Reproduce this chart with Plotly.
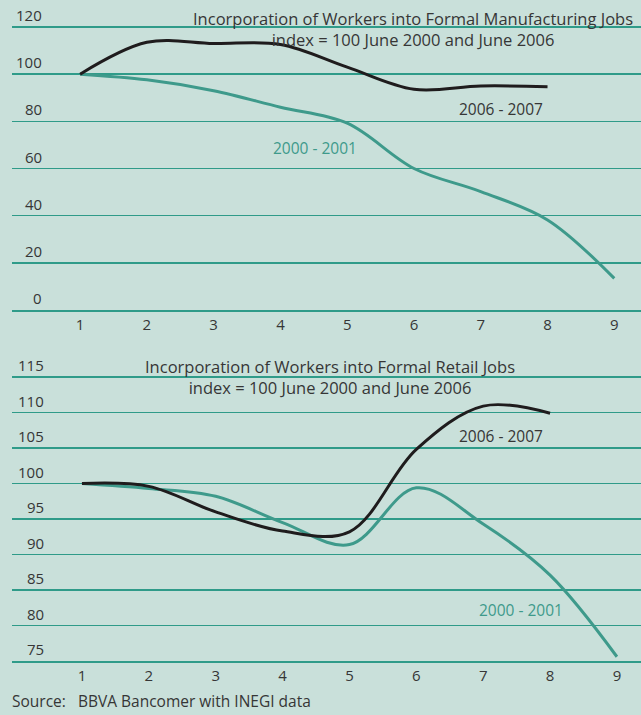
import plotly.graph_objects as go

# ---------------- data ----------------
months = [1, 2, 3, 4, 5, 6, 7, 8, 9]

manuf_2006_x = [1, 2, 3, 4, 5, 6, 7, 8]
manuf_2006 = [100, 113.5, 113.0, 112.6, 103.0, 93.6, 95.0, 94.7]
manuf_2000 = [100, 97.6, 93.0, 86.0, 79.2, 60.0, 50.2, 38.2, 13.4]

retail_2006_x = [1, 2, 3, 4, 5, 6, 7, 8]
retail_2006 = [100, 99.6, 96.0, 93.3, 93.2, 104.8, 110.9, 109.9]
retail_2000 = [100, 99.3, 98.2, 94.5, 91.4, 99.4, 94.3, 87.1, 75.6]

manuf_yticks = [0, 20, 40, 60, 80, 100, 120]
retail_yticks = [75, 80, 85, 90, 95, 100, 105, 110, 115]

title_top = "Incorporation of Workers into Formal Manufacturing Jobs<br>index = 100 June 2000 and June 2006"
title_bot = "Incorporation of Workers into Formal Retail Jobs<br>index = 100 June 2000 and June 2006"
source_text = "Source:   BBVA Bancomer with INEGI data"

# ---------------- style ----------------
W, H = 641, 715
BG = "#c9e0da"
GRID = "#2f9b89"
TEAL = "#3e9a8b"
BLACK = "#1f1c1d"
TXT = "#363636"
FONT = "Open Sans"

def fx(px):
    return px / W

def fy(px):
    return 1 - px / H

fig = go.Figure()

fig.add_trace(go.Scatter(x=months, y=manuf_2000, mode="lines", line=dict(color=TEAL, width=3, shape="spline", smoothing=1),
                         xaxis="x", yaxis="y", showlegend=False, hoverinfo="skip"))
fig.add_trace(go.Scatter(x=manuf_2006_x, y=manuf_2006, mode="lines", line=dict(color=BLACK, width=3, shape="spline", smoothing=1),
                         xaxis="x", yaxis="y", showlegend=False, hoverinfo="skip"))
fig.add_trace(go.Scatter(x=months, y=retail_2000, mode="lines", line=dict(color=TEAL, width=3, shape="spline", smoothing=1),
                         xaxis="x2", yaxis="y2", showlegend=False, hoverinfo="skip"))
fig.add_trace(go.Scatter(x=retail_2006_x, y=retail_2006, mode="lines", line=dict(color=BLACK, width=3, shape="spline", smoothing=1),
                         xaxis="x2", yaxis="y2", showlegend=False, hoverinfo="skip"))

xdom = [fx(12), 1]
common_x = dict(tickmode="array", tickvals=months, showgrid=False, zeroline=False, showline=True,
                linecolor=GRID, linewidth=1.5, ticks="", tickfont=dict(family=FONT, size=15, color=TXT),
                ticklabelstandoff=0, fixedrange=True)
common_y = dict(tickmode="array", showticklabels=False, showgrid=True, gridcolor=GRID, gridwidth=1.5,
                zeroline=False, showline=False, ticks="", fixedrange=True)

fig.update_layout(
    width=W, height=H,
    margin=dict(l=0, r=0, t=0, b=0),
    paper_bgcolor=BG, plot_bgcolor=BG,
    font=dict(family=FONT, color=TXT),
    xaxis=dict(domain=xdom, range=[-0.02, 9.40], anchor="y", **common_x),
    yaxis=dict(domain=[fy(310), fy(20)], range=[0, 122.97], tickvals=manuf_yticks, anchor="x", **common_y),
    xaxis2=dict(domain=xdom, range=[-0.046, 9.36], anchor="y2", **common_x),
    yaxis2=dict(domain=[fy(661), fy(370)], range=[75, 115.99], tickvals=retail_yticks, anchor="x2", **common_y),
)

ann = []
for v in manuf_yticks:
    ann.append(dict(x=fx(44), xref="paper", xanchor="right", y=v, yref="y", yanchor="bottom", yshift=0,
                    text=str(v), showarrow=False, font=dict(family=FONT, size=15, color=TXT)))
for v in retail_yticks:
    ann.append(dict(x=fx(46), xref="paper", xanchor="right", y=v, yref="y2", yanchor="bottom", yshift=0,
                    text=str(v), showarrow=False, font=dict(family=FONT, size=15, color=TXT)))

def label(text, cx, cy, color, size=15.5, xanchor="center"):
    return dict(x=fx(cx), xref="paper", xanchor=xanchor, y=fy(cy), yref="paper", yanchor="middle",
                text=text, showarrow=False, align="center", font=dict(family=FONT, size=size, color=color))

ann += [
    label(title_top, 413, 29, TXT, size=16.5),
    label(title_bot, 330, 377, TXT, size=16.5),
    label("2006 - 2007", 501, 109, TXT),
    label("2000 - 2001", 315, 148, TEAL),
    label("2006 - 2007", 501, 436, TXT),
    label("2000 - 2001", 521, 610, TEAL),
    label(source_text, 10, 701, TXT, xanchor="left"),
]
fig.update_layout(annotations=ann)

fig.write_html(
    "out.html",
    config={"displayModeBar": False, "staticPlot": True},
    post_script="document.body.style.margin='0';document.body.style.padding='0';"
                "document.body.style.background='#c9e0da';document.body.style.overflow='hidden';",
)
